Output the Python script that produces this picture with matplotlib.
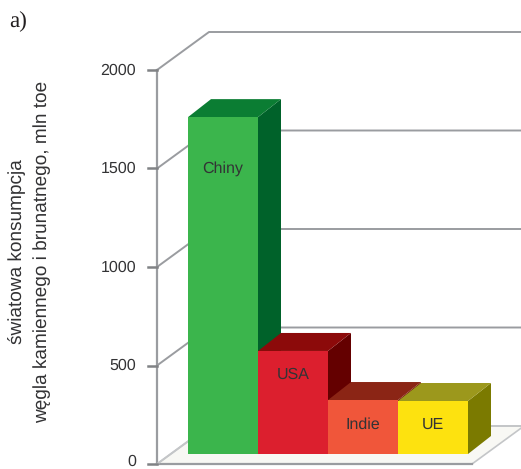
import matplotlib
matplotlib.use('Agg')
import matplotlib.pyplot as plt
from matplotlib.patches import Polygon

plt.rcParams['font.family'] = ['Liberation Sans', 'DejaVu Sans']
plt.rcParams['text.hinting'] = 'none'
plt.rcParams['text.hinting_factor'] = 1

# Coal consumption per region, mln toe
regions = ['Chiny', 'USA', 'Indie', 'UE']
consumption = [1710, 523, 274, 269]
y_ticks = [0, 500, 1000, 1500, 2000]

front_colors = ['#3bb54c', '#dc1f2e', '#f0563a', '#fde20f']
top_colors = ['#0b7d33', '#8c0a0a', '#8b2515', '#9c981c']
side_colors = ['#00622a', '#640000', '#7a1a0c', '#7b7a00']

W, H = 521, 469
PX_X = 70.0     # pixels per category
PX_Y = 0.197    # pixels per mln toe
X0 = 188.0      # pixel of the first bar's left edge
Y0 = 464.0      # pixel of value 0 on the front plane

# oblique shift of the chart box and of one bar, in data units
BOX_DX, BOX_DY = 52 / PX_X, 38 / PX_Y
BAR_DX, BAR_DY = 23 / PX_X, 18 / PX_Y
BASE_DY = 10 / PX_Y
AXIS_X = (157 - X0) / PX_X
FLOOR_R = (472 - X0) / PX_X
BACK_R = (521 - X0) / PX_X

fig = plt.figure(figsize=(W / 100, H / 100), dpi=100)
ax = fig.add_axes([0, 0, 1, 1])
ax.set_xlim(-X0 / PX_X, (W - X0) / PX_X)
ax.set_ylim((Y0 - H) / PX_Y, Y0 / PX_Y)
ax.axis('off')

grid = '#9a9ca0'
ink = '#333335'

# floor
ax.add_patch(Polygon([(AXIS_X, 0), (FLOOR_R, 0), (FLOOR_R + BOX_DX, BOX_DY), (AXIS_X + BOX_DX, BOX_DY)],
                     closed=True, facecolor='#f8f8f4', edgecolor='#c4c6c8', linewidth=1.2, zorder=1))
ax.plot([AXIS_X, FLOOR_R], [0, 0], color=grid, linewidth=1.6, zorder=2)

# walls and tick marks
ax.plot([AXIS_X, AXIS_X], [0, 2000], color=grid, linewidth=1.6, zorder=2)
for t in y_ticks:
    ax.plot([AXIS_X, AXIS_X + BOX_DX, BACK_R], [t, t + BOX_DY, t + BOX_DY],
            color=grid if t != 0 else '#c4c6c8', linewidth=1.4, zorder=2)
    ax.plot([AXIS_X - 9 / PX_X, AXIS_X], [t, t], color='#808285', linewidth=1.8, zorder=2)
    # the zero label is lifted a little so it stays inside the figure
    lift = 10 if t == 0 else -3
    ax.text(AXIS_X - 21 / PX_X, t + lift, str(t), ha='right', va='center', fontsize=11.3, color=ink, zorder=5)

# bars, left to right so each one covers the previous side face
for i, (name, val) in enumerate(zip(regions, consumption)):
    l, r = float(i), float(i + 1)
    b, t = BASE_DY, BASE_DY + val
    ax.add_patch(Polygon([(r, b), (r + BAR_DX, b + BAR_DY), (r + BAR_DX, t + BAR_DY), (r, t)],
                         closed=True, facecolor=side_colors[i], edgecolor='none', zorder=3 + i * 0.1))
    ax.add_patch(Polygon([(l, t), (r, t), (r + BAR_DX, t + BAR_DY), (l + BAR_DX, t + BAR_DY)],
                         closed=True, facecolor=top_colors[i], edgecolor='none', zorder=3 + i * 0.1))
    ax.add_patch(Polygon([(l, b), (r, b), (r, t), (l, t)],
                         closed=True, facecolor=front_colors[i], edgecolor='none', zorder=3.05 + i * 0.1))

# labels sit at a fixed value inside each bar
label_y = [1500, 455, 198, 198]
for i, name in enumerate(regions):
    ax.text(i + 0.5, label_y[i], name, ha='center', va='center', fontsize=11.3, color=ink, zorder=6)

fig.text(17 / W, 1 - 252 / H, 'światowa konsumpcja', rotation=90, ha='center', va='center',
         fontsize=13.8, color=ink)
fig.text(42 / W, 1 - 252 / H, 'węgla kamiennego i brunatnego, mln toe', rotation=90, ha='center', va='center',
         fontsize=13.8, color=ink)
fig.text(9 / W, 1 - 22 / H, 'a)', ha='left', va='center', fontsize=16.7, color='#231f20',
         family=['Liberation Serif', 'DejaVu Serif'])

fig.savefig('out.png', dpi=100)
